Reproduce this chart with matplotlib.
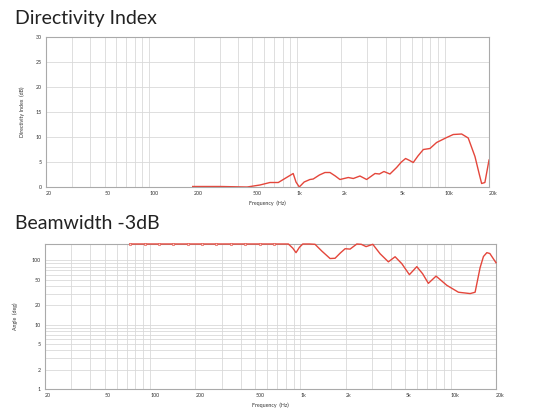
import numpy as np
import matplotlib
matplotlib.use("Agg")
import matplotlib.pyplot as plt
from matplotlib.ticker import FixedLocator, LogLocator, NullFormatter

plt.rcParams['font.family'] = ['Lato', 'DejaVu Sans']

# directivity index (dB) vs frequency (Hz)
di_freq = [197, 303, 460, 562, 657, 748, 944, 986, 1038, 1120, 1225, 1290, 1420, 1549, 1675,
           1820, 1956, 2228, 2410, 2673, 2966, 3380, 3620, 3885, 4266, 4733, 5100, 5446,
           5800, 6136, 6600, 7180, 7962, 8830, 10330, 11450, 13050, 14460, 16060, 17200,
           17820, 18750, 20000]
di_val = [0.1, 0.1, 0.0, 0.4, 0.9, 0.9, 2.7, 1.0, 0.0, 1.0, 1.5, 1.6, 2.4, 2.9, 2.9,
          2.2, 1.5, 1.9, 1.7, 2.2, 1.5, 2.7, 2.6, 3.1, 2.6, 3.9, 5.0, 5.7,
          5.3, 4.9, 6.2, 7.5, 7.7, 8.9, 9.9, 10.5, 10.6, 9.8, 6.1, 2.5,
          0.7, 0.9, 5.4]

# beamwidth -3dB (deg) vs frequency (Hz)
bw_freq = [73.5, 92, 115, 143, 178, 222, 276, 344, 429, 536, 668, 832, 890, 935, 985,
           1037, 1150, 1251, 1387, 1575, 1700, 1840, 1983, 2140, 2372, 2540, 2734, 3030,
           3388, 3847, 4264, 4725, 5308, 5945, 6500, 7097, 7985, 9415, 11250, 13460,
           14520, 15670, 16500, 17380, 18200, 20000]
bw_val = [180, 180, 180, 180, 180, 180, 180, 180, 180, 180, 180, 180, 155, 132, 160,
          180, 180, 178, 140, 107, 108, 130, 152, 150, 180, 178, 164, 178,
          127, 95, 114, 89, 60, 80, 62, 44, 57, 41, 32, 30.5,
          32, 77, 115, 132, 128, 92]

x_ticks = [20, 50, 100, 200, 500, 1000, 2000, 5000, 10000, 20000]
x_labels = ['20', '50', '100', '200', '500', '1k', '2k', '5k', '10k', '20k']
di_ticks = [0, 5, 10, 15, 20, 25, 30]
bw_ticks = [1, 2, 5, 10, 20, 50, 100]

red = '#e4463b'
grid_c = '#d9d9d9'
frame_c = '#aaaaaa'
txt_c = '#333333'

fig = plt.figure(figsize=(5.33, 4.13), dpi=100)

def style_x(ax):
    ax.set_xscale('log')
    ax.set_xlim(20, 20000)
    ax.xaxis.set_major_locator(FixedLocator(x_ticks))
    ax.set_xticklabels(x_labels)
    ax.xaxis.set_minor_locator(LogLocator(base=10, subs=np.arange(2, 10)))
    ax.xaxis.set_minor_formatter(NullFormatter())
    ax.grid(True, which='both', axis='x', color=grid_c, lw=0.6)
    ax.tick_params(which='both', length=0, labelsize=3.8, colors=txt_c, pad=3)
    for lab in ax.get_xticklabels():
        lab.set_horizontalalignment('left')
    for s in ax.spines.values():
        s.set_color(frame_c)
        s.set_linewidth(0.8)
    ax.set_xlabel('Frequency  (Hz)', fontsize=3.8, color=txt_c, labelpad=3)

# Directivity Index
ax1 = fig.add_axes([0.0863, 0.5472, 0.8312, 0.3632])
ax1.plot(di_freq, di_val, color=red, lw=1.0, clip_on=False)
style_x(ax1)
ax1.set_ylim(0, 30)
ax1.set_yticks(di_ticks)
ax1.grid(True, which='major', axis='y', color=grid_c, lw=0.6)
ax1.set_ylabel('Directivity Index  (dB)', fontsize=3.8, color=txt_c, labelpad=8)
fig.text(0.028, 0.955, 'Directivity Index', fontsize=14, color='#222222', va='center', ha='left')

# Beamwidth
ax2 = fig.add_axes([0.0844, 0.0581, 0.8462, 0.3511])
ax2.plot(bw_freq, bw_val, color=red, lw=1.0, marker='o', ms=1.8, mfc='#f7d0cc', mec=red,
         mew=0.4, markevery=slice(0, 11), clip_on=False, zorder=5)
style_x(ax2)
ax2.set_yscale('log')
ax2.set_ylim(1, 180)
ax2.yaxis.set_major_locator(FixedLocator(bw_ticks))
ax2.set_yticklabels([str(t) for t in bw_ticks])
ax2.yaxis.set_minor_locator(LogLocator(base=10, subs=np.arange(2, 10)))
ax2.yaxis.set_minor_formatter(NullFormatter())
ax2.grid(True, which='both', axis='y', color=grid_c, lw=0.6)
ax2.tick_params(which='both', length=0, labelsize=3.8, colors=txt_c, pad=3)
ax2.set_ylabel('Angle  (deg)', fontsize=3.8, color=txt_c, labelpad=10)
fig.text(0.028, 0.458, 'Beamwidth -3dB', fontsize=14, color='#222222', va='center', ha='left')

fig.savefig('out.png', dpi=100)
